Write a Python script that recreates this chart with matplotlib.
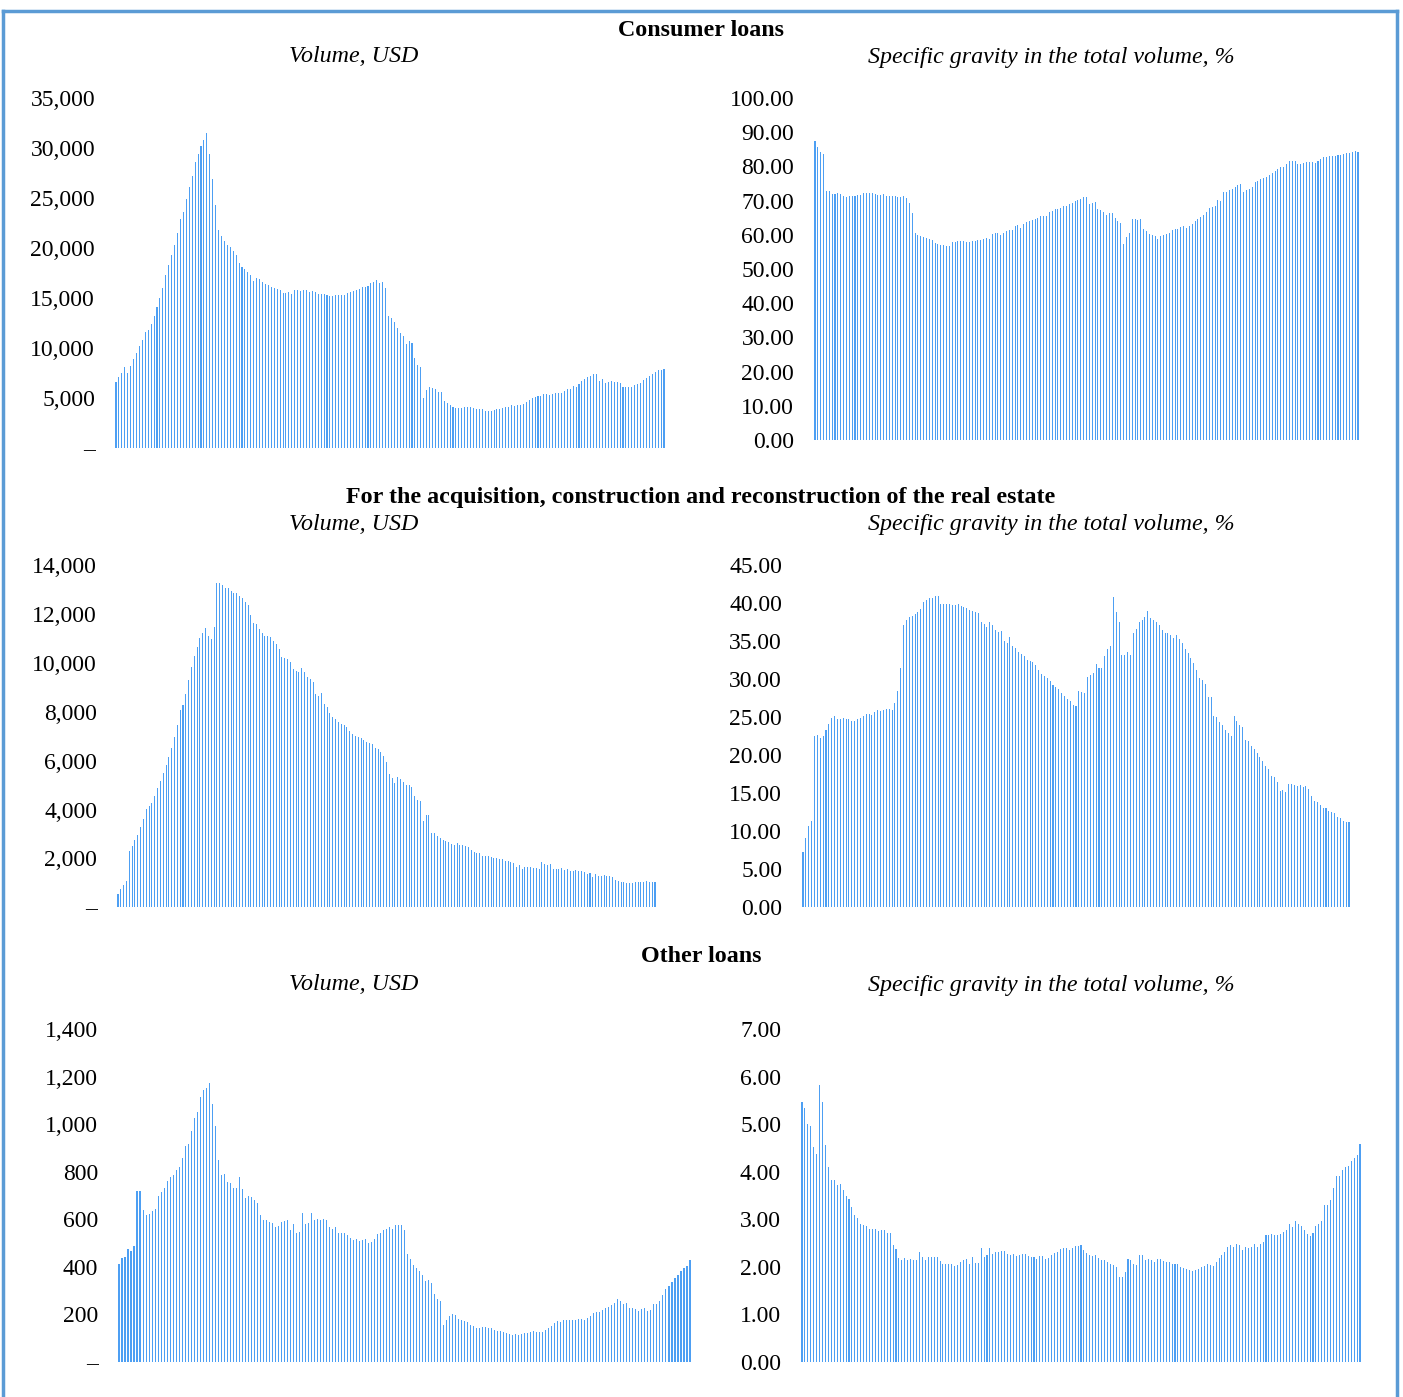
import numpy as np
import matplotlib
matplotlib.use("Agg")
import matplotlib.pyplot as plt
from matplotlib.ticker import FuncFormatter
from matplotlib.lines import Line2D

plt.rcParams['font.family'] = ['Liberation Serif', 'DejaVu Serif']

# ---- data (monthly bars) ----
consumer_volume = [
    6600, 7035, 7470, 8040, 7500, 8170, 8880, 9510, 10150, 10820,
    11620, 11790, 12430, 13230, 14100, 14970, 15950, 17250, 18290, 19260,
    20330, 21470, 22880, 23550, 24890, 26100, 27200, 28640, 29380, 30180,
    30820, 31520, 29410, 26870, 24250, 21780, 21170, 20670, 20330, 20070,
    19730, 19260, 18530, 18120, 17860, 17590, 17250, 16650, 16950, 16880,
    16620, 16350, 16310, 16110, 16010, 15880, 15780, 15440, 15440, 15580,
    15380, 15750, 15810, 15710, 15810, 15810, 15610, 15680, 15610, 15410,
    15410, 15380, 15280, 15140, 15210, 15240, 15240, 15240, 15280, 15510,
    15580, 15640, 15750, 15910, 16050, 16050, 16210, 16520, 16550,
    16735, 16530, 16630, 16030, 13220, 12990, 12580, 12020, 11480, 11150,
    10380, 10640, 10440, 8970, 8300, 8070, 4990, 5760, 6120, 5990,
    5920, 5590, 5590, 4720, 4520, 4320, 4120, 3980, 3980, 3980,
    4050, 4050, 4050, 3950, 3850, 3850, 3850, 3720, 3650, 3650,
    3750, 3850, 3920, 3980, 4050, 4120, 4250, 4220, 4250, 4250,
    4350, 4550, 4750, 4950, 5090, 5220, 5220, 5360, 5360, 5290,
    5390, 5520, 5460, 5490, 5690, 5860, 5860, 6160, 6120, 6390,
    6660, 6900, 7030, 7200, 7360, 7360, 6660, 6860, 6460, 6560,
    6660, 6560, 6590, 6430, 6060, 6090, 6060, 6090, 6230, 6360,
    6490, 6730, 6960, 7160, 7400, 7600, 7770, 7770, 7870,
]

consumer_share = [
    87.3, 85.7, 84.3, 83.6, 72.8, 72.8, 71.9, 71.9, 72.1, 71.8,
    71.2, 71.0, 71.4, 71.3, 71.3, 71.6, 71.6, 72.1, 72.1, 72.1,
    72.1, 71.8, 71.7, 71.7, 71.8, 71.3, 71.2, 71.2, 71.2, 71.1,
    71.1, 71.3, 70.7, 69.2, 66.3, 60.4, 59.9, 59.6, 59.5, 59.2,
    58.8, 58.4, 57.5, 57.2, 56.9, 56.9, 56.7, 56.8, 58.0, 58.0,
    58.1, 58.1, 58.1, 58.0, 57.9, 58.1, 58.1, 58.4, 58.6, 58.9,
    59.0, 58.9, 60.2, 60.4, 60.5, 60.0, 60.5, 61.0, 61.3, 61.3,
    62.6, 62.8, 62.0, 63.2, 63.6, 64.0, 64.3, 64.6, 65.0, 65.4,
    65.5, 65.6, 66.6, 67.1, 67.4, 67.5, 67.8, 68.3, 68.5, 69.0,
    69.4, 69.9, 70.1, 70.4, 71.0, 71.1, 69.0, 69.3, 69.5, 67.4,
    67.2, 66.8, 65.7, 66.3, 66.3, 64.8, 63.9, 63.5, 57.3, 59.3,
    60.5, 64.5, 64.5, 64.3, 64.6, 61.7, 61.0, 60.1, 59.8, 59.6,
    58.9, 59.6, 59.9, 60.2, 60.6, 61.3, 61.6, 61.8, 62.2, 62.5,
    62.0, 62.6, 63.1, 64.1, 64.5, 65.2, 65.8, 66.6, 67.7, 68.0,
    68.5, 70.2, 70.0, 72.5, 72.5, 73.0, 73.4, 74.1, 74.5, 75.0,
    72.5, 73.0, 73.5, 73.9, 75.4, 75.7, 76.2, 76.5, 76.9, 77.5,
    78.1, 78.8, 79.1, 79.9, 79.9, 80.6, 81.6, 81.7, 81.7, 80.8,
    80.8, 81.0, 81.2, 81.2, 81.3, 81.1, 81.5, 82.3, 82.7, 82.7,
    83.0, 83.1, 83.0, 83.3, 83.4, 83.5, 83.8, 83.9, 84.2, 84.4,
    84.2,
]

estate_volume = [
    545, 736, 927, 1063, 2303, 2508, 2753, 2958, 3271, 3598,
    4034, 4143, 4253, 4566, 4880, 5152, 5493, 5820, 6161, 6529,
    6978, 7456, 8069, 8273, 8723, 9309, 9841, 10277, 10645, 10999,
    11217, 11408, 11108, 10958, 11463, 13276, 13248, 13167, 13058, 13044,
    12949, 12867, 12840, 12717, 12649, 12485, 12349, 11940, 11613, 11586,
    11368, 11217, 11108, 11095, 11040, 10877, 10768, 10577, 10223, 10182,
    10141, 10032, 9759, 9664, 9623, 9786, 9623, 9405, 9323, 9214,
    8710, 8655, 8778, 8328, 8192, 7960, 7783, 7715, 7565, 7483,
    7470, 7360, 7197, 7074, 6992, 6965, 6910, 6829, 6747, 6706,
    6679, 6515, 6474, 6338, 6202, 5929, 5438, 5275, 5098, 5343,
    5234, 5125, 5002, 5002, 4920, 4539, 4375,
    4348, 3530, 3762, 3762, 3053, 3026, 2917, 2835, 2753, 2712,
    2672, 2590, 2549, 2617, 2549, 2549, 2522, 2453, 2344, 2276,
    2235, 2208, 2113, 2113, 2085, 2058, 2004, 2017, 1976, 1963,
    1908, 1881, 1840, 1813, 1649, 1717, 1567, 1636, 1649, 1649,
    1622, 1595, 1567, 1840, 1772, 1745, 1758, 1581, 1581, 1581,
    1595, 1540, 1554, 1499, 1499, 1513, 1472, 1472, 1458, 1377,
    1390, 1240, 1377, 1281, 1295, 1308, 1295, 1281, 1254, 1131,
    1063, 1022, 1022, 995, 995, 1009, 1022, 1036, 1049, 1049,
    1063, 1022, 1022, 1022,
]

estate_share = [
    7.24, 9.08, 10.70, 11.36, 22.54, 22.63, 22.32, 22.54, 23.29, 24.04,
    24.91, 25.09, 24.74, 24.78, 24.87, 24.74, 24.74, 24.43, 24.52, 24.69,
    24.91, 25.13, 25.39, 25.35, 25.31, 25.66, 25.92, 25.79, 25.92, 26.05,
    26.05, 25.97, 26.84, 28.47, 31.45, 37.15, 37.72, 38.11, 38.33, 38.60,
    38.82, 39.21, 40.09, 40.39, 40.61, 40.66, 40.92, 40.97, 39.87, 39.91,
    39.87, 39.82, 39.78, 39.78, 39.87, 39.56, 39.52, 39.30, 39.08, 38.99,
    38.77, 38.64, 37.50, 37.19, 36.89, 37.50, 37.06, 36.49, 36.23, 36.27,
    34.96, 34.78, 35.53, 34.34, 34.04, 33.60, 33.33, 33.07, 32.54, 32.41,
    32.19, 31.84, 31.14, 30.70, 30.35, 30.18, 29.69, 29.25, 28.95, 28.64,
    28.16, 27.72, 27.41,
    27.15, 26.58, 26.45, 28.47, 28.33, 28.16, 30.31, 30.53, 30.83, 32.02,
    31.45, 31.45, 33.07, 33.99, 34.39, 40.83, 38.86, 37.54, 33.20, 33.16,
    33.55, 33.20, 36.05, 36.62, 37.54, 37.81, 38.20, 38.95, 38.07, 37.76,
    37.54, 37.15, 36.40, 36.10, 36.05, 35.75, 35.40, 35.83, 35.31, 34.74,
    33.90, 33.47, 32.81, 32.11, 31.18, 30.13, 29.87, 29.34, 27.59, 27.68,
    25.18, 25.00, 24.39, 23.99, 23.29, 22.89, 22.50, 25.09, 24.52, 23.99,
    23.68, 22.02, 21.84, 21.27, 20.83, 20.31, 19.78, 19.21, 18.55, 18.16,
    17.24, 17.19, 16.49, 15.35, 15.44, 15.22, 16.18, 16.18, 16.14, 15.97,
    16.05, 15.79, 15.92, 15.53, 14.61, 13.99, 13.86, 13.42, 13.07, 13.03,
    12.72, 12.50, 12.37, 11.93, 11.71, 11.36, 11.18, 11.18,
]

other_volume = [
    413, 437, 441, 475, 465, 488, 717, 721, 641, 616,
    624, 636, 645, 696, 713, 731, 762, 778, 785, 807,
    820, 856, 908, 915, 970, 1024, 1050, 1114, 1143, 1152,
    1173, 1085, 994, 848, 787, 789, 758, 751, 733, 731,
    776, 728, 688, 700, 692, 682, 669, 620, 598, 598,
    588, 583, 567, 571, 589, 591, 595, 555, 582, 544,
    548, 628, 581, 585, 627, 599, 603, 598, 602, 598,
    569, 560, 569, 541, 544, 543, 534, 523, 515, 519,
    508, 515, 519, 501, 506, 519, 540, 544, 554, 561,
    569, 558, 574, 574, 574,
    553, 456, 432, 409, 396, 384, 367, 339, 346, 333,
    284, 266, 257, 155, 177, 194, 201, 197, 179, 176,
    173, 167, 155, 150, 143, 143, 146, 146, 143, 141,
    134, 131, 129, 128, 120, 118, 115, 117, 114, 117,
    120, 124, 125, 129, 128, 127, 127, 136, 143, 152,
    164, 171, 170, 176, 176, 176, 176, 177, 180, 181,
    177, 186, 195, 205, 211, 212, 217, 226, 233, 240,
    247, 263, 256, 243, 247, 229, 225, 221, 214, 221,
    226, 215, 219, 242, 243, 256, 281, 307, 318, 337,
    353, 366, 384, 396, 404, 430,
]

other_share = [
    5.47, 5.33, 5.00, 4.96, 4.53, 4.37, 5.82, 5.47, 4.56, 4.09,
    3.83, 3.83, 3.72, 3.74, 3.61, 3.49, 3.43, 3.25, 3.10, 3.03,
    2.91, 2.87, 2.85, 2.80, 2.80, 2.80, 2.75, 2.77, 2.77, 2.71,
    2.71, 2.45, 2.38, 2.19, 2.14, 2.19, 2.14, 2.16, 2.14, 2.14,
    2.31, 2.21, 2.14, 2.21, 2.21, 2.21, 2.21, 2.12, 2.05, 2.05,
    2.05, 2.05, 2.01, 2.04, 2.11, 2.14, 2.17, 2.06, 2.21, 2.08,
    2.08, 2.39, 2.21, 2.24, 2.39, 2.28, 2.31, 2.31, 2.33, 2.34,
    2.27, 2.24, 2.28, 2.23, 2.25, 2.28, 2.28, 2.23, 2.21, 2.21,
    2.17, 2.22, 2.22, 2.16, 2.18, 2.24, 2.29, 2.31, 2.37, 2.39,
    2.39, 2.35,
    2.40, 2.44, 2.43, 2.45, 2.36, 2.29, 2.24, 2.22, 2.24, 2.19,
    2.14, 2.14, 2.10, 2.05, 2.03, 2.00, 1.78, 1.79, 1.90, 2.16,
    2.14, 2.05, 2.03, 2.25, 2.24, 2.14, 2.17, 2.14, 2.10, 2.16,
    2.16, 2.13, 2.11, 2.10, 2.07, 2.07, 2.05, 2.00, 1.98, 1.95,
    1.94, 1.91, 1.93, 1.95, 1.99, 2.02, 2.05, 2.03, 2.02, 2.10,
    2.19, 2.24, 2.31, 2.42, 2.46, 2.42, 2.47, 2.45, 2.35, 2.41,
    2.40, 2.41, 2.49, 2.41, 2.47, 2.52, 2.67, 2.66, 2.70, 2.66,
    2.66, 2.70, 2.73, 2.77, 2.91, 2.84, 2.96, 2.91, 2.86, 2.77,
    2.70, 2.65, 2.71, 2.85, 2.90, 2.96, 3.30, 3.31, 3.41, 3.66,
    3.90, 3.92, 4.03, 4.09, 4.13, 4.23, 4.28, 4.36, 4.58,
]

section_titles = ["Consumer loans",
                  "For the acquisition, construction and reconstruction of the real estate",
                  "Other loans"]
left_title = "Volume, USD"
right_title = "Specific gravity in the total volume, %"

W, H = 1403, 1397
BAR_COLOR = '#4d9ff3'
FS = 17
TFS = 17.3

fig = plt.figure(figsize=(W / 100, H / 100), dpi=100)


def vol_fmt(v, pos):
    if abs(v) < 1e-9:
        return '–'
    return f'{v:,.0f}'


def pct_fmt(v, pos):
    return f'{v:.2f}'


def panel(vals, x_first, x_last, y_zero, y_top, ymax, step, fmt):
    n = len(vals)
    sp = (x_last - x_first) / (n - 1)
    left = x_first - sp / 2
    right = x_last + sp / 2
    ax = fig.add_axes([left / W, 1 - y_zero / H, (right - left) / W, (y_zero - y_top) / H])
    ax.bar(np.arange(n), vals, width=0.36, color=BAR_COLOR, linewidth=0)
    ax.set_xlim(-0.5, n - 0.5)
    ax.set_ylim(0, ymax)
    ax.set_yticks(np.arange(0, ymax + step / 2, step))
    ax.yaxis.set_major_formatter(FuncFormatter(fmt))
    ax.set_xticks([])
    ax.tick_params(axis='y', length=0, pad=14, labelsize=FS)
    for s in ax.spines.values():
        s.set_visible(False)
    ax.patch.set_alpha(0)
    return ax


panel(consumer_volume, 116, 664, 447.7, 98, 35000, 5000, vol_fmt)
panel(consumer_share, 815, 1358, 440, 98, 100, 10, pct_fmt)
panel(estate_volume, 118, 655, 907.3, 565, 14000, 2000, vol_fmt)
panel(estate_share, 803, 1349, 907.3, 565, 45, 5, pct_fmt)
panel(other_volume, 119, 690, 1362, 1029, 1400, 200, vol_fmt)
panel(other_share, 802, 1360, 1362, 1029, 7, 1, pct_fmt)

# section headers and sub-headers
for title, ty, sy in zip(section_titles, [30, 497, 957], [57, 525, 985]):
    fig.text(701 / W, 1 - ty / H, title, ha='center', va='center',
             fontsize=TFS, fontweight='bold')
    fig.text(354 / W, 1 - sy / H, left_title, ha='center', va='center',
             fontsize=TFS, style='italic')
    fig.text(1051 / W, 1 - sy / H, right_title, ha='center', va='center',
             fontsize=TFS, style='italic')

# blue frame around the chart area
frame = dict(color='#5b9bd5', linewidth=2.5, transform=fig.transFigure)
fig.add_artist(Line2D([3 / W, 3 / W], [0, 1 - 11 / H], **frame))
fig.add_artist(Line2D([1397 / W, 1397 / W], [0, 1 - 11 / H], **frame))
fig.add_artist(Line2D([3 / W, 1397 / W], [1 - 11 / H, 1 - 11 / H], **frame))

fig.savefig('out.png', dpi=100)
